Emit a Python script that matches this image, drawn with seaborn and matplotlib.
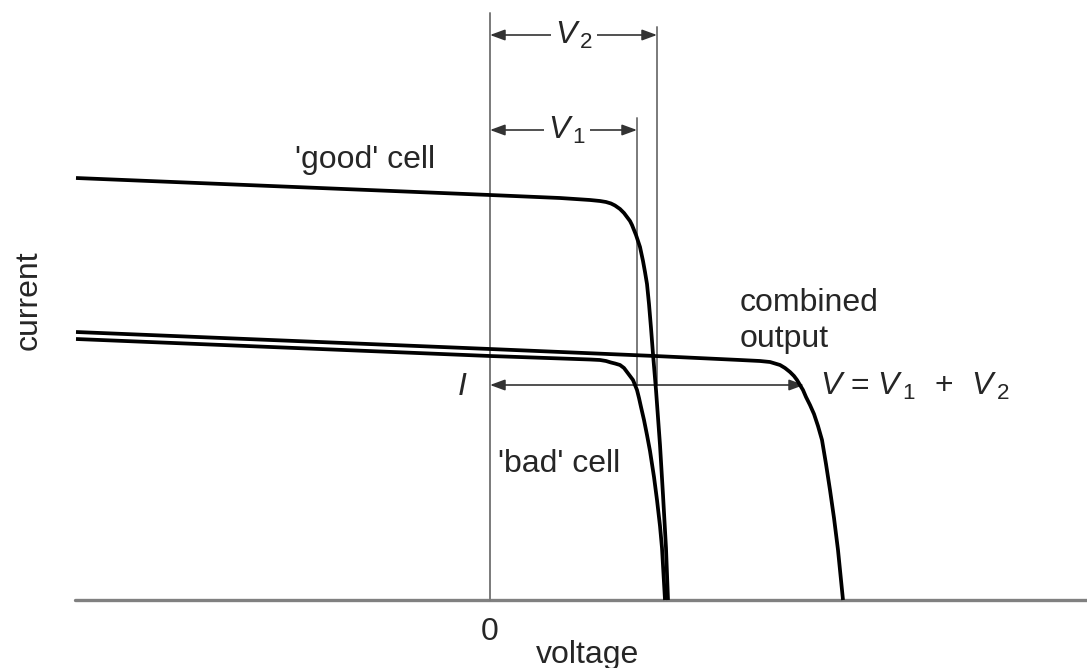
import matplotlib
matplotlib.use("Agg")
import matplotlib.pyplot as plt
import seaborn as sns
import pandas as pd

# --- I-V characteristics (voltage, current in arbitrary units) ---
good_v = [-4.14, 0.00, 0.70, 1.00, 1.10, 1.16, 1.21, 1.25, 1.30, 1.34, 1.37,
          1.40, 1.42, 1.44, 1.46, 1.48, 1.50, 1.53, 1.55, 1.57, 1.59, 1.61,
          1.63, 1.66, 1.70, 1.73, 1.76, 1.78]
good_i = [4.22, 4.05, 4.02, 4.00, 3.99, 3.98, 3.965, 3.945, 3.91, 3.87,
          3.83, 3.79, 3.75, 3.70, 3.65, 3.59, 3.53, 3.39, 3.28, 3.16, 2.96,
          2.72, 2.46, 2.10, 1.55, 1.05, 0.52, 0.00]

bad_v = [-4.14, 0.00, 1.00, 1.10, 1.16, 1.21, 1.25, 1.30, 1.34, 1.37, 1.40,
         1.43, 1.45, 1.47, 1.49, 1.51, 1.54, 1.57, 1.60, 1.64, 1.67, 1.70,
         1.72, 1.75]
bad_i = [2.61, 2.44, 2.405, 2.40, 2.39, 2.375, 2.365, 2.35, 2.32, 2.28, 2.24,
         2.20, 2.15, 2.10, 2.02, 1.93, 1.80, 1.65, 1.49, 1.23, 1.00, 0.74,
         0.52, 0.00]

comb_v = [-4.14, 0.00, 1.65, 2.50, 2.70, 2.80, 2.85, 2.90, 2.95, 3.00, 3.04,
          3.07, 3.10, 3.13, 3.16, 3.20, 3.24, 3.28, 3.32, 3.36, 3.40, 3.44,
          3.48, 3.53]
comb_i = [2.68, 2.51, 2.44, 2.40, 2.39, 2.38, 2.365, 2.35, 2.32, 2.28, 2.24,
          2.20, 2.15, 2.10, 2.03, 1.95, 1.86, 1.74, 1.60, 1.36, 1.10, 0.82,
          0.50, 0.00]

# operating point of the series string
V1 = 1.47
V2 = 1.67
I_op = 2.15

sns.set_theme(style="white")
plt.rcParams["font.family"] = ["Liberation Sans", "DejaVu Sans"]
plt.rcParams["mathtext.fontset"] = "custom"
plt.rcParams["mathtext.rm"] = "Liberation Sans"
plt.rcParams["mathtext.it"] = "Liberation Sans:italic"

fig = plt.figure(figsize=(10.87, 6.68), dpi=100)
ax = fig.add_axes([0, 0, 1, 1])

thin = dict(color="#7a7a7a", lw=1.4, zorder=1)

# voltage axis and zero line
ax.plot([-4.15, 5.97], [0, 0], color="#808080", lw=2.4, zorder=1)
ax.plot([0, 0], [0, 5.87], **thin)

# guide lines at V1 and V2
ax.plot([V1, V1], [I_op, 4.82], **thin)
ax.plot([V2, V2], [I_op, 5.73], **thin)

# curves
for v, i in [(good_v, good_i), (bad_v, bad_i), (comb_v, comb_i)]:
    df = pd.DataFrame({"voltage": v, "current": i})
    sns.lineplot(data=df, x="voltage", y="current", sort=False,
                 color="black", lw=2.7, ax=ax, zorder=3,
                 solid_joinstyle="round", solid_capstyle="butt")

ax.set_xlim(-4.90, 5.97)
ax.set_ylim(-0.68, 6.00)
ax.axis("off")

fs = 23
arrow = dict(arrowstyle="<|-|>,head_length=0.6,head_width=0.22",
             color="#333333", lw=1.2, shrinkA=0, shrinkB=0,
             mutation_scale=15)

# dimension arrows
ax.annotate("", xy=(V2, 5.65), xytext=(0, 5.65), arrowprops=arrow, zorder=2)
ax.text(0.84, 5.65, r"$V_{\,2}$", fontsize=fs, ha="center", va="center",
        bbox=dict(fc="white", ec="none", pad=3), zorder=4)

ax.annotate("", xy=(V1, 4.70), xytext=(0, 4.70), arrowprops=arrow, zorder=2)
ax.text(0.77, 4.70, r"$V_{\,1}$", fontsize=fs, ha="center", va="center",
        bbox=dict(fc="white", ec="none", pad=3), zorder=4)

ax.annotate("", xy=(V1 + V2, I_op), xytext=(0, I_op), arrowprops=arrow,
            zorder=2)

# labels
ax.text(-1.25, 4.32, "'good' cell", fontsize=fs, ha="center",
        va="baseline")
ax.text(0.08, 1.28, "'bad' cell", fontsize=fs, ha="left", va="baseline")
ax.text(2.50, 2.53, "combined\noutput", fontsize=fs, ha="left",
        va="baseline", linespacing=1.25)
ax.text(3.30, 2.05, r"$V$ = $V_{\,1}$ $\,+\,$ $V_{\,2}$", fontsize=fs,
        ha="left", va="baseline")
ax.text(-0.28, 2.05, r"$I$", fontsize=fs, ha="center", va="baseline")
ax.text(0.00, -0.32, "0", fontsize=fs, ha="center", va="center")
ax.text(0.98, -0.55, "voltage", fontsize=fs, ha="center", va="center")
ax.text(-4.61, 3.00, "current", fontsize=fs, ha="center", va="center",
        rotation=90)

fig.savefig("out.png", dpi=100, facecolor="white")
